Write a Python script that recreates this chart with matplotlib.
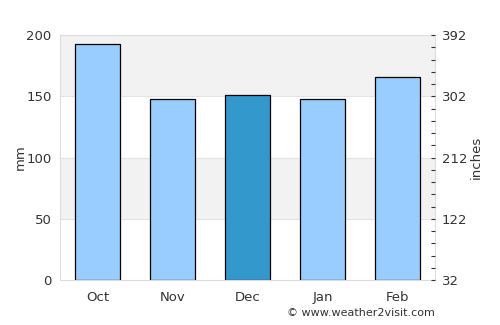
import matplotlib
matplotlib.use("Agg")
import matplotlib.pyplot as plt
from matplotlib.ticker import MultipleLocator

months = ["Oct", "Nov", "Dec", "Jan", "Feb"]
rain_mm = [193, 148, 151, 148, 166]
highlight = "Dec"
left_ticks = [0, 50, 100, 150, 200]
right_labels = ["32", "122", "212", "302", "392"]

fig = plt.figure(figsize=(5, 3.25), dpi=100)
ax = fig.add_axes([0.12, 0.138, 0.75, 0.754])

ax.set_xlim(-0.5, 4.5)
ax.set_ylim(0, 200)
for lo, hi in [(50, 100), (150, 200)]:
    ax.axhspan(lo, hi, color="#f2f2f2", zorder=0, lw=0)
for y in left_ticks[1:-1]:
    ax.axhline(y, color="#e3e3e3", lw=0.8, zorder=0.5)

colors = ["#3399cc" if m == highlight else "#99ccff" for m in months]
ax.bar(range(len(months)), rain_mm, width=0.6, color=colors,
       edgecolor="black", linewidth=0.9, zorder=2)

ax.set_xticks(range(len(months)))
ax.set_xticklabels(months)
ax.set_yticks(left_ticks)
ax.tick_params(axis="x", length=0, labelsize=9.5, colors="#333333", pad=8)
ax.tick_params(axis="y", length=0, labelsize=9.5, colors="#333333", pad=6)
for s in ax.spines.values():
    s.set_color("#dddddd")
    s.set_linewidth(0.8)
ax.set_ylabel("mm", fontsize=9.5, color="#333333", labelpad=0)

ax2 = ax.twinx()
ax2.set_ylim(0, 200)
ax2.set_yticks(left_ticks)
ax2.set_yticklabels(right_labels)
ax2.yaxis.set_minor_locator(MultipleLocator(10))
ax2.tick_params(axis="y", which="both", direction="in", length=3, width=0.8,
                color="#333333", labelsize=9.5, labelcolor="#333333", pad=5)
for s in ax2.spines.values():
    s.set_visible(False)
ax2.set_ylabel("inches", fontsize=9.5, color="#333333", labelpad=2)

fig.text(0.87, 0.02, "© www.weather2visit.com", ha="right", va="bottom",
         fontsize=8, color="#333333")

fig.savefig("out.png", dpi=100)
